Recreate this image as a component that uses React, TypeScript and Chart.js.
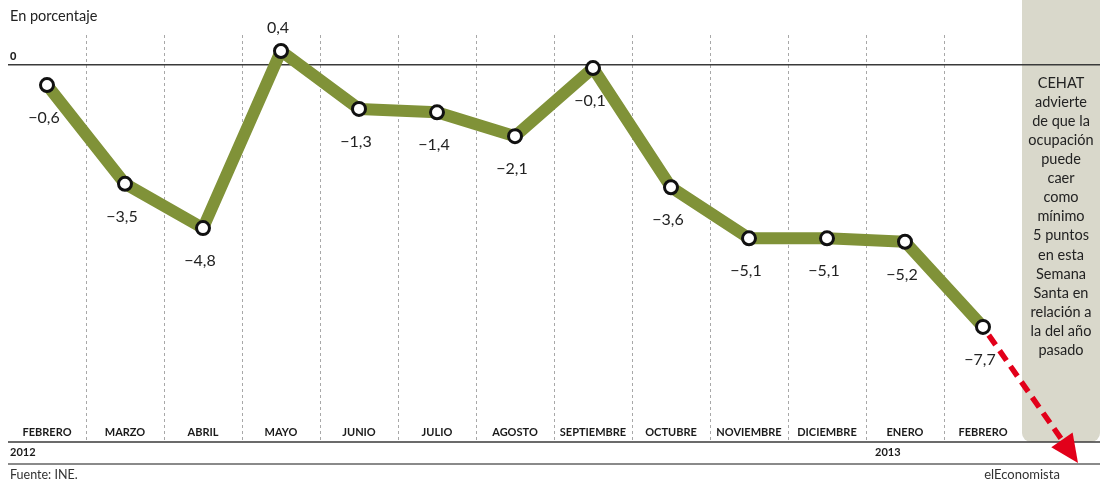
import React, { useEffect, useRef } from "react";
import { Chart, registerables } from "chart.js";

Chart.register(...registerables);

const categories = ["FEBRERO", "MARZO", "ABRIL", "MAYO", "JUNIO", "JULIO", "AGOSTO", "SEPTIEMBRE", "OCTUBRE", "NOVIEMBRE", "DICIEMBRE", "ENERO", "FEBRERO"];
const values = [-0.6, -3.5, -4.8, 0.4, -1.3, -1.4, -2.1, -0.1, -3.6, -5.1, -5.1, -5.2, -7.7];
const yearLabels = ["2012", "2013"];
const yearIndex = [0, 11];
const noteLines = ["CEHAT", "advierte", "de que la", "ocupación", "puede", "caer", "como", "mínimo", "5 puntos", "en esta", "Semana", "Santa en", "relación a", "la del año", "pasado"];
const unitLabel = "En porcentaje";
const sourceText = "Fuente: INE.";
const brandText = "elEconomista";
const yMin = -11.08;
const yMax = 0.87;

const FONT = "Lato, 'Open Sans', sans-serif";

function fmt(v: number) {
  const s = Math.abs(v).toFixed(1).replace(".", ",");
  return v < 0 ? "\u2212" + s : s;
}

const decoPlugin = {
  id: "deco",
  beforeDatasetsDraw(chart: any) {
    const { ctx, chartArea: ca, scales } = chart;
    const x = scales.x;
    const y = scales.y;
    const step = x.getPixelForValue(1) - x.getPixelForValue(0);
    const n = categories.length;
    ctx.save();
    // gray note box
    const boxL = x.getPixelForValue(n) - step / 2;
    const boxR = ca.right;
    ctx.fillStyle = "#d9d8cb";
    ctx.beginPath();
    (ctx as any).roundRect(boxL, -12, boxR - boxL, ca.bottom + 12, 9);
    ctx.fill();
    // note text
    ctx.fillStyle = "#222";
    ctx.font = `14.5px ${FONT}`;
    ctx.textAlign = "center";
    ctx.textBaseline = "middle";
    const cx = (boxL + boxR) / 2;
    noteLines.forEach((t, i) => ctx.fillText(t, cx, 83 + i * 19.1));
    // dashed verticals
    ctx.strokeStyle = "#a8a8a8";
    ctx.lineWidth = 1;
    ctx.setLineDash([3, 3]);
    for (let i = 1; i < n; i++) {
      const xp = Math.round(x.getPixelForValue(i) - step / 2) + 0.5;
      ctx.beginPath();
      ctx.moveTo(xp, ca.top);
      ctx.lineTo(xp, ca.bottom);
      ctx.stroke();
    }
    ctx.setLineDash([]);
    // zero line
    const y0 = y.getPixelForValue(0);
    ctx.strokeStyle = "#3a3a3a";
    ctx.lineWidth = 1.5;
    ctx.beginPath();
    ctx.moveTo(ca.left, y0);
    ctx.lineTo(ca.right, y0);
    ctx.stroke();
    ctx.fillStyle = "#222";
    ctx.font = `900 11px ${FONT}`;
    ctx.textAlign = "left";
    ctx.textBaseline = "middle";
    ctx.fillText("0", ca.left + 2, y0 - 8);
    // title
    ctx.font = `14.5px ${FONT}`;
    ctx.fillStyle = "#222";
    ctx.fillText(unitLabel, ca.left + 2, 16);
    // bottom axis line
    ctx.strokeStyle = "#3a3a3a";
    ctx.lineWidth = 1.5;
    ctx.beginPath();
    ctx.moveTo(ca.left, ca.bottom);
    ctx.lineTo(ca.right, ca.bottom);
    ctx.stroke();
    // category labels
    ctx.font = `bold 11px ${FONT}`;
    ctx.textAlign = "center";
    ctx.fillStyle = "#1a1a1a";
    categories.forEach((c, i) => ctx.fillText(c, x.getPixelForValue(i), ca.bottom - 10));
    // years
    ctx.textAlign = "left";
    yearLabels.forEach((t, k) => {
      const idx = yearIndex[k];
      const left = idx === 0 ? ca.left + 2 : x.getPixelForValue(idx) - step / 2 + 9;
      ctx.fillText(t, left, ca.bottom + 10);
    });
    // gray footer line
    ctx.strokeStyle = "#8a8a8a";
    ctx.lineWidth = 2;
    ctx.beginPath();
    ctx.moveTo(ca.left, ca.bottom + 22);
    ctx.lineTo(ca.right, ca.bottom + 22);
    ctx.stroke();
    ctx.font = `12.5px ${FONT}`;
    ctx.fillStyle = "#333";
    ctx.fillText(sourceText, ca.left + 2, ca.bottom + 33);
    ctx.textAlign = "center";
    ctx.font = `13px ${FONT}`;
    ctx.fillText(brandText, boxL, ca.bottom + 33);
    ctx.restore();
  },
  afterDatasetsDraw(chart: any) {
    const { ctx } = chart;
    const meta = chart.getDatasetMeta(0);
    ctx.save();
    ctx.font = `16px ${FONT}`;
    ctx.fillStyle = "#222";
    ctx.textAlign = "center";
    ctx.textBaseline = "middle";
    meta.data.forEach((pt: any, i: number) => {
      const v = values[i];
      if (v === undefined) return;
      const ty = v > 0 ? pt.y - 23 : pt.y + 33;
      ctx.fillText(fmt(v), pt.x - 3, ty);
    });
    // red dashed arrow from last point
    const last = meta.data[values.length - 1];
    const sx = last.x, sy = last.y;
    const tx = sx + 95, ty = sy + 136;
    const len = Math.hypot(tx - sx, ty - sy);
    const ux = (tx - sx) / len, uy = (ty - sy) / len;
    const px = -uy, py = ux;
    ctx.strokeStyle = "#e2001a";
    ctx.fillStyle = "#e2001a";
    ctx.lineWidth = 5.5;
    ctx.setLineDash([12, 7]);
    ctx.beginPath();
    ctx.moveTo(sx + ux * 10, sy + uy * 10);
    ctx.lineTo(tx - ux * 24, ty - uy * 24);
    ctx.stroke();
    ctx.setLineDash([]);
    ctx.beginPath();
    ctx.moveTo(tx, ty);
    ctx.lineTo(tx - ux * 28 + px * 13, ty - uy * 28 + py * 13);
    ctx.lineTo(tx - ux * 28 - px * 13, ty - uy * 28 - py * 13);
    ctx.closePath();
    ctx.fill();
    ctx.restore();
  },
};

export default function App() {
  const ref = useRef<HTMLCanvasElement | null>(null);
  useEffect(() => {
    document.body.style.margin = "0";
    const canvas = ref.current;
    if (!canvas) return;
    const labels = [...categories, ""];
    const chart = new Chart(canvas, {
      type: "line",
      data: {
        labels,
        datasets: [
          {
            data: [...values, null],
            borderColor: "#809238",
            borderWidth: 12,
            borderJoinStyle: "bevel",
            tension: 0,
            pointRadius: 6.5,
            pointBorderWidth: 3,
            pointBackgroundColor: "#ffffff",
            pointBorderColor: "#111111",
            spanGaps: false,
          } as any,
        ],
      },
      options: {
        animation: false,
        responsive: false,
        layout: { autoPadding: false, padding: { left: 8, right: 4, top: 35, bottom: 40 } },
        plugins: { legend: { display: false }, tooltip: { enabled: false } },
        scales: {
          x: { type: "category", display: false, offset: true },
          y: { display: false, min: yMin, max: yMax },
        },
      },
      plugins: [decoPlugin],
    });
    return () => chart.destroy();
  }, []);
  return <canvas ref={ref} width={1104} height={482} style={{ display: "block" }} />;
}
